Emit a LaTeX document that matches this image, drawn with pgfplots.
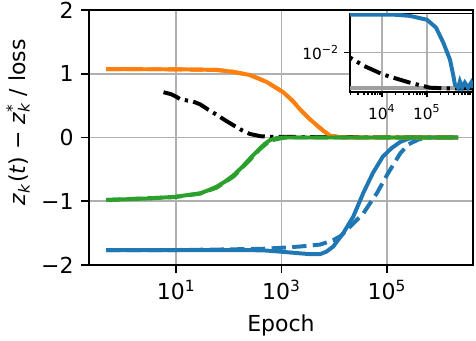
\documentclass[border=0pt]{standalone}
\usepackage{fontspec}
\setmainfont{DejaVu Sans}
\usepackage{pgfplots}
\pgfplotsset{compat=1.18}
\definecolor{tabblue}{HTML}{1F77B4}
\definecolor{taborange}{HTML}{FF7F0E}
\definecolor{tabgreen}{HTML}{2CA02C}
\definecolor{gridgray}{HTML}{B0B0B0}

% loss, shared by the main axis and the inset
\pgfplotstableread{
x y
5.75 0.71
8.0 0.68
10.0 0.64
12.0 0.60
15.0 0.585
20.0 0.57
28.5 0.52
40.0 0.44
59.0 0.355
85.0 0.27
123 0.19
180 0.11
251 0.055
400 0.02
603 0.012
1000 0.0095
1950 0.00863
3981 0.00676
10470 0.00525
19950 0.00468
41690 0.00412
117500 0.00355
316200 0.00347
2238700 0.00347
}\loss

\pgfplotsset{
  mplstyle/.style={
    scale only axis,
    tick align=outside,
    tick pos=left,
    major tick length=3.5pt,
    minor tick length=2pt,
    every tick/.style={black, line width=0.8pt},
    axis line style={line width=0.8pt},
    grid=major,
    major grid style={line width=0.8pt, gridgray},
  },
  dashedline/.style={dash pattern=on 6.5pt off 2.9pt},
  dashdotline/.style={dash pattern=on 8pt off 2.4pt on 1.5pt off 2.4pt},
}

\begin{document}
\begin{tikzpicture}
\path[use as bounding box] (-40.45pt,-34.09pt) rectangle (175.9pt,120.45pt);
\begin{axis}[mplstyle,
  name=main,
  width=174.5pt, height=115.9pt,
  font=\fontsize{10}{12}\selectfont,
  xmode=log,
  xmin=0.2213, xmax=4.266e6,
  ymin=-2, ymax=2,
  xtick={10,1000,100000},
  xticklabels={10\textsuperscript{1},10\textsuperscript{3},10\textsuperscript{5}},
  minor xtick={},
  ytick={-2,-1,0,1,2},
  yticklabels={−2,−1,0,1,2},
  xlabel={Epoch},
  ylabel={\textit{z}\textsubscript{\textit{k}}(\textit{t}) − \textit{z}\rlap{\textsubscript{\textit{k}}}\textsuperscript{*} / loss},
  every axis x label/.style={at={(axis description cs:0.5,-0.2588)}, anchor=base},
  every axis y label/.style={at={(axis description cs:-0.185,0.559)}, rotate=90, anchor=center},
]
\addplot[black, line width=1.8pt, dashdotline] table {\loss};

\addplot[tabblue, line width=1.8pt] coordinates {
(0.468,-1.765) (10,-1.765) (100,-1.765) (447,-1.77) (933,-1.79) (2239,-1.817)
(3548,-1.83) (5370,-1.83) (7079,-1.79) (9550,-1.71) (14790,-1.50) (22910,-1.24)
(35480,-0.87) (53700,-0.56) (83180,-0.30) (123000,-0.165) (177800,-0.07)
(251200,-0.02) (426600,0) (2238700,0)};
\addplot[tabblue, line width=1.8pt, dashedline] coordinates {
(0.468,-1.765) (10,-1.765) (100,-1.755) (447,-1.745) (1000,-1.73) (2239,-1.71)
(5370,-1.68) (9550,-1.61) (13490,-1.54) (19950,-1.40) (35480,-1.19) (64570,-0.87)
(104700,-0.56) (177800,-0.25) (251200,-0.11) (398100,-0.03) (660700,0) (2238700,0)};

\addplot[taborange, line width=1.8pt] coordinates {
(0.468,1.072) (10,1.07) (59,1.06) (120,1.03) (251,0.98) (525,0.87) (1072,0.71)
(1600,0.58) (2239,0.44) (3300,0.30) (4677,0.19) (6300,0.10) (8318,0.03)
(12880,0.005) (17000,0) (2238700,0)};
\addplot[taborange, line width=1.8pt, dashedline] coordinates {
(0.468,1.072) (10,1.07) (59,1.06) (120,1.03) (251,0.98) (525,0.87) (1072,0.71)
(1600,0.58) (2239,0.44) (3300,0.30) (4677,0.19) (6300,0.10) (8318,0.03)
(12880,0.005) (17000,0) (2238700,0)};

\addplot[tabgreen, line width=1.8pt] coordinates {
(0.468,-0.98) (3.2,-0.955) (9.5,-0.93) (28.5,-0.875) (40,-0.83) (59,-0.77)
(85,-0.69) (123,-0.59) (180,-0.46) (251,-0.33) (320,-0.24) (389,-0.17)
(480,-0.10) (603,-0.04) (800,-0.01) (1072,0) (2238700,0)};
\addplot[tabgreen, line width=1.8pt, dashedline] coordinates {
(0.468,-0.98) (9.5,-0.935) (28.5,-0.88) (59,-0.785) (123,-0.61) (251,-0.35)
(389,-0.18) (603,-0.05) (1072,-0.005) (1400,0) (2238700,0)};
\end{axis}

\begin{axis}[mplstyle,
  at={(118.6pt,114.3pt)}, anchor=north west,
  width=55.9pt, height=35.5pt,
  font=\fontsize{7}{8}\selectfont,
  major tick length=2.5pt,
  minor tick length=1.5pt,
  axis background/.style={fill=white},
  xmode=log, ymode=log,
  xmin=1950, xmax=1.047e6,
  ymin=0.003162, ymax=0.03162,
  xtick={10000,100000},
  xticklabels={10\textsuperscript{4},10\textsuperscript{5}},
  minor xtick={2000,3000,4000,5000,6000,7000,8000,9000,
    20000,30000,40000,50000,60000,70000,80000,90000,
    200000,300000,400000,500000,600000,700000,800000,900000},
  ytick={0.01},
  yticklabels={10\textsuperscript{−2}},
  minor ytick={},
  yticklabel style={xshift=1.2pt},
]
\addplot[gray!75, line width=2pt] coordinates {(1950,0.00355) (1.047e6,0.00355)};
\addplot[black, line width=1.8pt, dashdotline] table {\loss};
\addplot[tabblue, line width=1.8pt] coordinates {
(1950,0.0305) (19500,0.0305) (41690,0.0295) (100000,0.0263) (158500,0.0209)
(229100,0.0135) (323600,0.00813) (380200,0.00525) (416900,0.00389) (489800,0.00355)
(537000,0.00427) (602600,0.00355) (691800,0.00412) (812800,0.00355)
(955000,0.00412) (1047000,0.00355)};
\end{axis}
\end{tikzpicture}
\end{document}
